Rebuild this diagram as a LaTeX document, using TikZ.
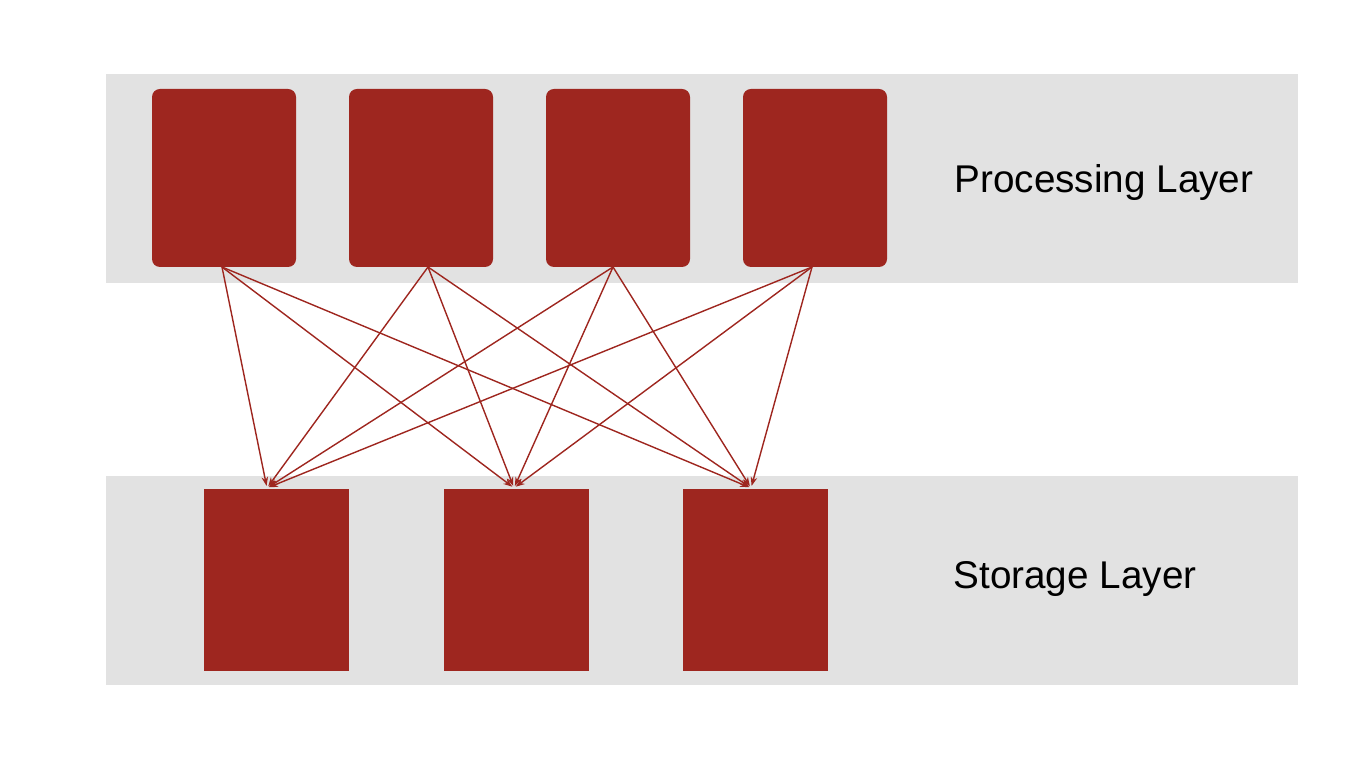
\documentclass[tikz,border=0pt]{standalone}
\usepackage{fontspec}
\setmainfont{Liberation Sans}
\usetikzlibrary{arrows.meta,positioning}

\definecolor{bandgray}{HTML}{E2E2E2}
\definecolor{boxred}{HTML}{9E261F}

\begin{document}
\begin{tikzpicture}[
  band/.style={fill=bandgray,draw=none},
  procbox/.style={fill=boxred,draw=none,rounded corners=0.08cm,minimum width=1.44cm,minimum height=1.78cm,inner sep=0pt,outer sep=0pt},
  storebox/.style={fill=boxred,draw=none,minimum width=1.45cm,minimum height=1.82cm,inner sep=0pt,outer sep=0pt},
  layer/.style={font=\fontsize{11}{13}\selectfont,inner sep=0pt},
  arr/.style={-{Stealth[length=0.9mm,width=0.65mm]},draw=boxred,line width=0.4pt,shorten >=0.6pt}
]
  \useasboundingbox (0,0) rectangle (13.66,7.68);

  % Bands
  \fill[bandgray] (1.06,4.85) rectangle (12.98,6.94);
  \fill[bandgray] (1.06,0.83) rectangle (12.98,2.92);

  % Processing layer
  \node[procbox] (p1) at (2.24,5.90) {};
  \node[procbox,right=0.53cm of p1] (p2) {};
  \node[procbox,right=0.53cm of p2] (p3) {};
  \node[procbox,right=0.53cm of p3] (p4) {};
  \node[layer] (plabel) at (11.04,5.85) {Processing Layer};

  % Storage layer
  \node[storebox] (s1) at (2.765,1.88) {};
  \node[storebox,right=0.95cm of s1] (s2) {};
  \node[storebox,right=0.94cm of s2] (s3) {};
  \node[layer] (slabel) at (10.75,1.89) {Storage Layer};

  % Connector ends
  \coordinate (p1o) at ([xshift=-0.02cm]p1.south);
  \coordinate (p2o) at ([xshift=0.07cm]p2.south);
  \coordinate (p3o) at ([xshift=-0.05cm]p3.south);
  \coordinate (p4o) at ([xshift=-0.03cm]p4.south);
  \coordinate (s1i) at ([xshift=-0.095cm,yshift=0.01cm]s1.north);
  \coordinate (s2i) at ([xshift=-0.025cm,yshift=0.01cm]s2.north);
  \coordinate (s3i) at ([xshift=-0.045cm,yshift=0.01cm]s3.north);

  % Every processing node talks to every storage node
  \foreach \i in {1,...,4}
    \foreach \j in {1,2,3}
      \draw[arr] (p\i o) -- (s\j i);
\end{tikzpicture}
\end{document}
